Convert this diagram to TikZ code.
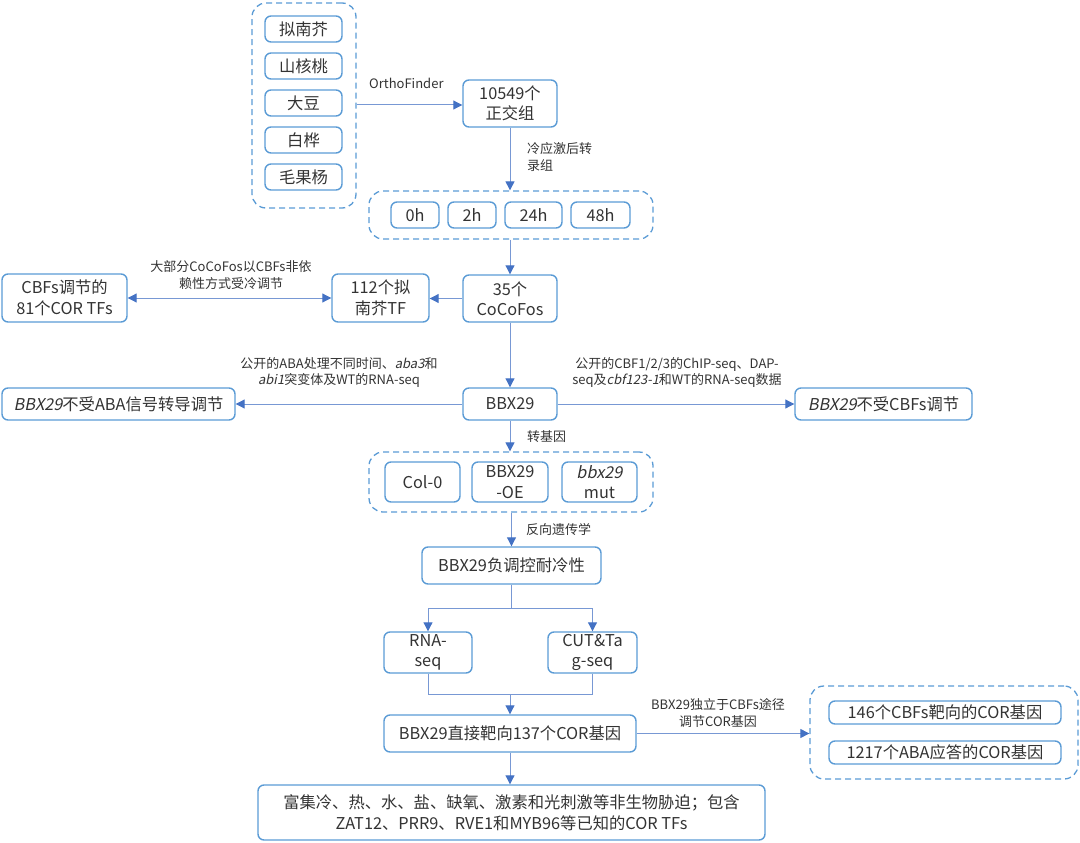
\documentclass[tikz,border=0pt]{standalone}
\usepackage{fontspec}
\setmainfont{Noto Sans CJK SC}[ItalicFont=Noto Sans CJK SC, ItalicFeatures={FakeSlant=0.2}]
\usetikzlibrary{arrows.meta}
\definecolor{bblue}{RGB}{91,155,213}
\definecolor{lnblue}{RGB}{120,152,212}
\definecolor{tipblue}{RGB}{68,114,196}
\definecolor{txt}{RGB}{51,51,51}
\tikzset{
  box/.style={draw=bblue, line width=1.4pt, rounded corners=6pt, text=txt, align=center, inner sep=0pt,
    font=\fontsize{16.3}{20.5}\selectfont},
  grp/.style={draw=bblue, line width=1.3pt, dash pattern=on 6pt off 4pt, rounded corners=14pt, inner sep=0pt},
  arr/.style={draw=lnblue, line width=1pt, -{Triangle[length=9pt,width=9pt,color=tipblue]}},
  darr/.style={draw=lnblue, line width=1pt, {Triangle[length=9pt,width=9pt,color=tipblue]}-{Triangle[length=9pt,width=9pt,color=tipblue]}},
  ln/.style={draw=lnblue, line width=1pt},
  lbl/.style={text=txt, align=center, inner sep=0pt, font=\fontsize{13}{16.5}\selectfont},
  lbll/.style={lbl, align=left, anchor=west},
}
\begin{document}
\begin{tikzpicture}[x=1pt,y=-1pt]
\useasboundingbox (0,0) rectangle (1080,843);
% group 1 species
\node[grp, minimum width=104pt, minimum height=205pt] (g1) at (304,105.5) {};
\node[box, minimum width=77pt, minimum height=26pt] (s1) at (303.5,29) {拟南芥};
\node[box, minimum width=77pt, minimum height=26pt] (s2) at (303.5,66) {山核桃};
\node[box, minimum width=77pt, minimum height=26pt] (s3) at (303.5,103) {大豆};
\node[box, minimum width=77pt, minimum height=26pt] (s4) at (303.5,140) {白桦};
\node[box, minimum width=77pt, minimum height=26pt] (s5) at (303.5,177) {毛果杨};
% orthogroups
\node[box, minimum width=94pt, minimum height=47pt] (ortho) at (510,103.5) {10549个\\正交组};
% time group
\node[grp, minimum width=284pt, minimum height=48pt] (g2) at (511,215) {};
\node[box, minimum width=48pt, minimum height=26pt] (t0) at (415,215) {0h};
\node[box, minimum width=48pt, minimum height=26pt] (t2) at (472,215) {2h};
\node[box, minimum width=57pt, minimum height=26pt] (t24) at (533.5,215) {24h};
\node[box, minimum width=59pt, minimum height=26pt] (t48) at (600.5,215) {48h};
% row 3
\node[box, minimum width=94pt, minimum height=47pt] (coco) at (510,298.5) {35个\\CoCoFos};
\node[box, minimum width=97pt, minimum height=48pt] (tf) at (380.5,298) {112个拟\\南芥TF};
\node[box, minimum width=125pt, minimum height=48pt] (cbf) at (64.5,298) {CBFs调节的\\81个COR TFs};
% row 4
\node[box, minimum width=94pt, minimum height=32pt] (bbx) at (510,404) {BBX29};
\node[box, minimum width=233pt, minimum height=32pt] (aba) at (118.5,404) {\textit{BBX29}不受ABA信号转导调节};
\node[box, minimum width=177pt, minimum height=32pt] (cbfno) at (883.5,404) {\textit{BBX29}不受CBFs调节};
% transgenic group
\node[grp, minimum width=284pt, minimum height=60pt] (g3) at (511,482) {};
\node[box, minimum width=75pt, minimum height=40pt] (col) at (422.5,482) {Col-0};
\node[box, minimum width=76pt, minimum height=40pt] (oe) at (510,482) {BBX29\\-OE};
\node[box, minimum width=75pt, minimum height=40pt] (mut) at (599.5,482) {\textit{bbx29}\\mut};
% negative regulation
\node[box, minimum width=179pt, minimum height=37pt] (neg) at (511.5,565.5) {BBX29负调控耐冷性};
\node[box, minimum width=88pt, minimum height=41pt] (rna) at (428,652.5) {RNA-\\seq};
\node[box, minimum width=89pt, minimum height=41pt] (cut) at (592.5,652.5) {CUT\&Ta\\g-seq};
\node[box, minimum width=252pt, minimum height=37pt] (tgt) at (510,733.5) {BBX29直接靶向137个COR基因};
% right group
\node[grp, minimum width=268pt, minimum height=93pt] (g4) at (944,732.5) {};
\node[box, minimum width=232pt, minimum height=23pt] (c146) at (945,712.5) {146个CBFs靶向的COR基因};
\node[box, minimum width=232pt, minimum height=23pt] (c1217) at (945,752.5) {1217个ABA应答的COR基因};
% bottom
\node[box, minimum width=507pt, minimum height=55pt] (big) at (511.5,812.5) {富集冷、热、水、盐、缺氧、激素和光刺激等非生物胁迫；包含\\ZAT12、PRR9、RVE1和MYB96等已知的COR TFs};

% connectors
\draw[arr] (g1.east |- 0,105) -- (ortho.west |- 0,105);
\node[lbll] (lorth) at (369,83) {OrthoFinder};
\draw[arr] (ortho.south) -- (ortho.south |- g2.north);
\node[lbll] (lcold) at (527,157) {冷应激后转\\录组};
\draw[arr] (g2.south -| coco) -- (coco.north);
\draw[arr] (coco.west) -- (tf.east |- coco.west);
\draw[darr] (tf.west) -- (cbf.east);
\node[lbl] (lcbf) at (231,275) {大部分CoCoFos以CBFs非依\\赖性方式受冷调节};
\draw[arr] (coco.south) -- (bbx.north);
\draw[arr] (bbx.west) -- (aba.east);
\node[lbl] (laba) at (339,372.5) {公开的ABA处理不同时间、\textit{aba3}和\\\textit{abi1}突变体及WT的RNA-seq};
\draw[arr] (bbx.east) -- (cbfno.west);
\node[lbl] (lchip) at (677,372.5) {公开的CBF1/2/3的ChIP-seq、DAP-\\seq及\textit{cbf123-1}和WT的RNA-seq数据};
\draw[arr] (bbx.south) -- (bbx.south |- g3.north);
\node[lbll] (ltrans) at (527,437) {转基因};
\draw[arr] (g3.south -| neg) -- (neg.north);
\node[lbll] (lrev) at (526,530) {反向遗传学};
\coordinate (split) at (511.5,608);
\draw[ln] (neg.south) -- (split);
\draw[arr] (split) -| (rna.north);
\draw[arr] (split) -| (cut.north);
\coordinate (join) at (510,694);
\draw[ln] (rna.south) |- (join);
\draw[ln] (cut.south) |- (join);
\draw[arr] (join) -- (tgt.north);
\draw[arr] (tgt.east) -- (g4.west |- tgt.east);
\node[lbl] (lind) at (718,713) {BBX29独立于CBFs途径\\调节COR基因};
\draw[arr] (tgt.south) -- (big.north -| tgt.south);
\end{tikzpicture}
\end{document}
